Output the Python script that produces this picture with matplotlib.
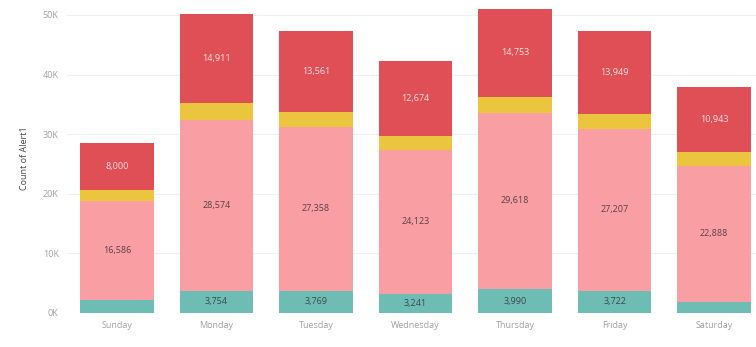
import numpy as np
import matplotlib.pyplot as plt

plt.rcParams['font.family'] = ['Open Sans', 'DejaVu Sans']

days = ['Sunday', 'Monday', 'Tuesday', 'Wednesday', 'Thursday', 'Friday', 'Saturday']

# stacked segments, bottom to top
teal = [2180, 3754, 3769, 3241, 3990, 3722, 1850]
pink = [16586, 28574, 27358, 24123, 29618, 27207, 22888]
yellow = [1800, 2850, 2600, 2260, 2630, 2500, 2250]
red = [8000, 14911, 13561, 12674, 14753, 13949, 10943]

series = [
    (teal, '#6dbdb4', '#3a4a4a'),
    (pink, '#f99ea3', '#5a4044'),
    (yellow, '#ecc53e', None),
    (red, '#df4f55', '#fbe3e3'),
]

fig = plt.figure(figsize=(7.56, 3.47), dpi=100)
ax = fig.add_axes([67 / 756, 34 / 347, 1 - 67 / 756, 310 / 347])

x = np.arange(len(days))
bottom = np.zeros(len(days))
for vals, color, txt in series:
    vals = np.array(vals, dtype=float)
    ax.bar(x, vals, width=0.74, bottom=bottom, color=color, zorder=2)
    if txt:
        for xi, b, v in zip(x, bottom, vals):
            if v >= 3000:
                ax.text(xi, b + v / 2, f'{int(v):,}', ha='center', va='center',
                        fontsize=6.5, color=txt, zorder=3)
    bottom += vals

ax.set_xlim(-0.5, 6.42)
ax.set_ylim(0, 52000)
ax.set_yticks([0, 10000, 20000, 30000, 40000, 50000])
ax.set_yticklabels(['0K', '10K', '20K', '30K', '40K', '50K'])
ax.set_xticks(x)
ax.set_xticklabels(days)
ax.tick_params(length=0, labelsize=6.5, labelcolor='#a0a0a0', pad=6)
ax.grid(axis='y', color='#f0f0f0', linewidth=0.8, zorder=0)
for s in ax.spines.values():
    s.set_visible(False)
ax.set_ylabel('Count of Alert1', fontsize=6.5, color='#444444', labelpad=10)

fig.savefig('out.png', dpi=100)
